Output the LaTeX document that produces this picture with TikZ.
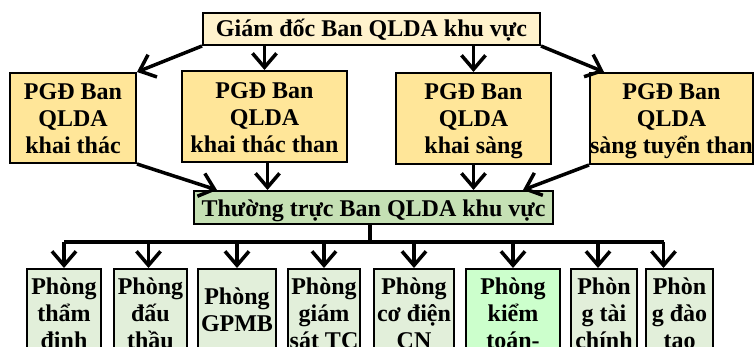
\documentclass[tikz,border=0pt]{standalone}
\usepackage{fontspec}
\setmainfont{Liberation Serif}
\usetikzlibrary{arrows.meta,calc}

\definecolor{gdfill}{HTML}{FFF2CC}
\definecolor{pgdfill}{HTML}{FFE699}
\definecolor{ttfill}{HTML}{C5E0B4}
\definecolor{phfill}{HTML}{E2EFDA}
\definecolor{ktfill}{HTML}{CCFFCC}

\tikzset{
  orgbox/.style={draw=black, line width=2pt, inner sep=0pt, anchor=north west},
  boxtext/.style={font=\bfseries\fontsize{24}{27}\selectfont, align=center,
    inner sep=0pt, outer sep=0pt, draw=none, fill=none,
    minimum width=0pt, minimum height=0pt, anchor=base, text=black},
  link/.style={line width=3.5pt, -{Straight Barb[length=14pt,width=24pt]}},
  busline/.style={line width=3.5pt},
}

% #1 name, #2 x1, #3 y1, #4 x2, #5 y2, #6 fill,
% #7 baseline of the last line below the top edge, #8 text.
% The label is clipped to the box outline.
\newcommand{\labelbox}[8]{%
  \node[orgbox, fill=#6, minimum width={#4-#2}, minimum height={#5-#3},
    path picture={\node[boxtext] (#1-text)
      at ([yshift=-#7pt]path picture bounding box.north) {#8};}]
    (#1) at (#2,#3) {};}

\begin{document}
\begin{tikzpicture}[x=1pt,y=-1pt]
\useasboundingbox (0,0) rectangle (755,346);
\clip (0,0) rectangle (755,346);

% director
\labelbox{gd}{202}{12}{539}{44}{gdfill}{23}{Giám đốc Ban QLDA khu vực}

% deputy directors
\labelbox{p1}{9}{72}{135}{162}{pgdfill}{80}{PGĐ Ban\\QLDA\\khai thác}
\labelbox{p2}{181}{70}{346}{161}{pgdfill}{81}{PGĐ Ban\\QLDA\\khai thác than}
\labelbox{p3}{395}{72}{550}{163}{pgdfill}{80}{PGĐ Ban\\QLDA\\khai sàng}
\labelbox{p4}{589}{72}{752}{163}{pgdfill}{80}{PGĐ Ban\\QLDA\\sàng tuyển than}

% standing office
\labelbox{tt}{193}{190}{552}{223}{ttfill}{25}{Thường trực Ban QLDA khu vực}

% departments
\labelbox{b1}{26}{268}{100}{400}{phfill}{79}{Phòng\\thẩm\\định}
\labelbox{b2}{113}{268}{186}{400}{phfill}{79}{Phòng\\đấu\\thầu}
\labelbox{b3}{197}{268}{275}{400}{phfill}{62}{Phòng\\GPMB}
\labelbox{b4}{287}{268}{359}{400}{phfill}{79}{Phòng\\giám\\sát TC}
\labelbox{b5}{373}{268}{453}{400}{phfill}{79}{Phòng\\cơ điện\\CN}
\labelbox{b6}{465}{268}{559}{400}{ktfill}{79}{Phòng\\kiểm\\toán-}
\labelbox{b7}{570}{268}{636}{400}{phfill}{79}{Phòn\\g tài\\chính}
\labelbox{b8}{645}{268}{712}{400}{phfill}{79}{Phòn\\g đào\\tạo}

% director to deputies
\draw[link] (gd.south west) -- (p1.north east);
\draw[link] (p2.north |- gd.south) -- (p2.north);
\draw[link] (p3.north |- gd.south) -- (p3.north);
\draw[link] (gd.south east) -- ([xshift=15pt]p4.north west);

% deputies to standing office
\draw[link] (p1.south east) -- ([xshift=24pt]tt.north west);
\draw[link] ([xshift=3pt]p2.south) -- ([xshift=3pt]p2.south |- tt.north);
\draw[link] (p3.south) -- (p3.south |- tt.north);
\draw[link] (p4.south west) -- ([xshift=-31pt]tt.north east);

% standing office to departments
\coordinate (bus) at (370,242);
\draw[busline] (tt.south -| bus) -- (bus);
\draw[busline] (b1.north |- bus) -- ([xshift=-16pt]b8.north |- bus);
\foreach \b/\dx in {b1/0, b2/-2, b3/0, b4/0, b5/0, b6/0, b7/-6, b8/-16}
  \draw[link] ([xshift=\dx pt]\b.north |- bus) -- ([xshift=\dx pt]\b.north);
\end{tikzpicture}
\end{document}
